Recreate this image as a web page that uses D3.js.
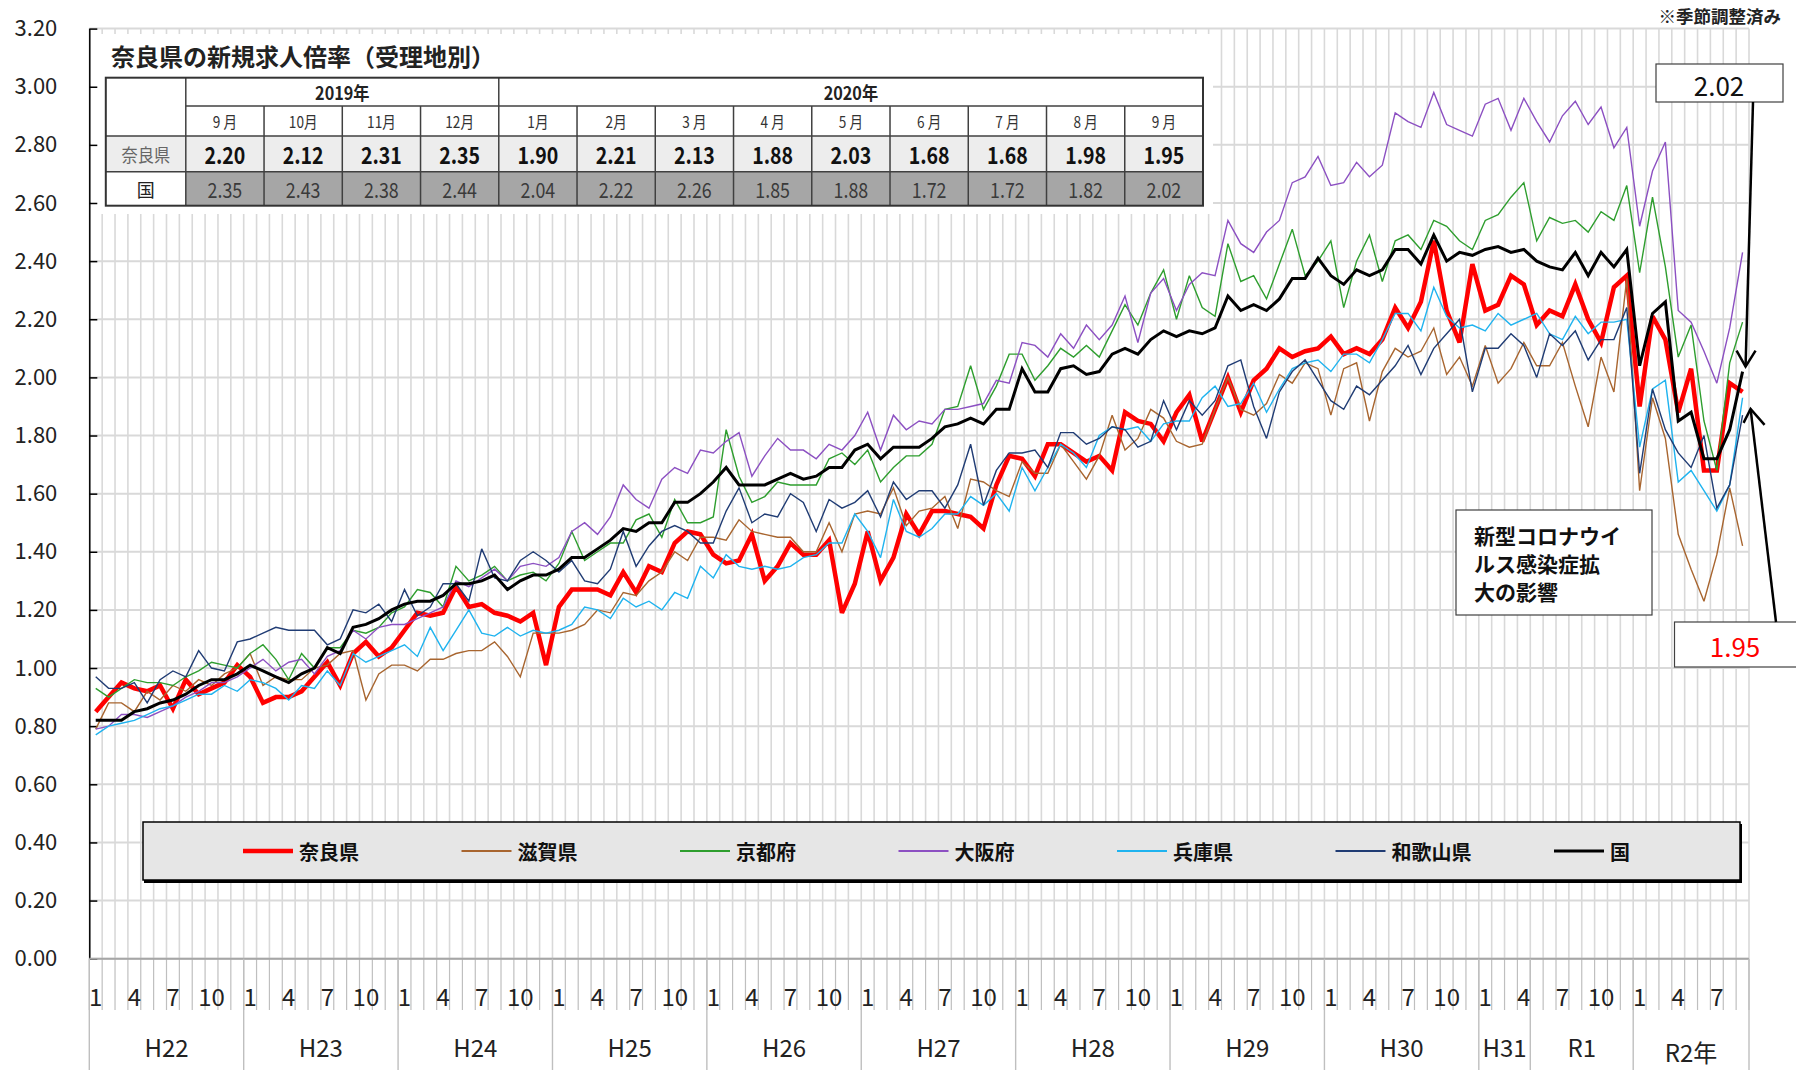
<!DOCTYPE html>
<html>
<head>
<meta charset="utf-8">
<script src="https://cdn.jsdelivr.net/npm/d3@7"></script>
<style>
  body { margin: 0; background: #fff; }
  svg text { font-family: "Noto Sans CJK JP", "Noto Sans", sans-serif; }
</style>
</head>
<body>
<div id="chart"></div>
<script>

// monthly values, H22 Jan (2010) .. R2 Sep (2020)
var naraValues = [
  0.85, 0.90, 0.95, 0.93, 0.92, 0.94, 0.86, 0.96, 0.91, 0.93, 0.95, 1.01,
  0.97, 0.88, 0.90, 0.90, 0.92, 0.97, 1.02, 0.94, 1.05, 1.09, 1.04, 1.07,
  1.13, 1.19, 1.18, 1.19, 1.28, 1.21, 1.22, 1.19, 1.18, 1.16, 1.19, 1.01,
  1.21, 1.27, 1.27, 1.27, 1.25, 1.33, 1.26, 1.35, 1.33, 1.43, 1.47, 1.46,
  1.39, 1.36, 1.37, 1.46, 1.30, 1.35, 1.43, 1.39, 1.39, 1.44, 1.19, 1.29,
  1.47, 1.30, 1.38, 1.53, 1.46, 1.54, 1.54, 1.53, 1.52, 1.48, 1.63, 1.73,
  1.72, 1.66, 1.77, 1.77, 1.74, 1.71, 1.73, 1.68, 1.88, 1.85, 1.84, 1.78,
  1.88, 1.94, 1.78, 1.89, 2.00, 1.88, 1.99, 2.03, 2.10, 2.07, 2.09, 2.10,
  2.14, 2.08, 2.10, 2.08, 2.13, 2.24, 2.17, 2.26, 2.47, 2.23, 2.12, 2.39,
  2.23, 2.25, 2.35, 2.32, 2.18, 2.23, 2.21, 2.32, 2.20, 2.12, 2.31, 2.35,
  1.90, 2.21, 2.13, 1.88, 2.03, 1.68, 1.68, 1.98, 1.95
];
var shigaValues = [
  0.79, 0.88, 0.88, 0.85, 0.92, 0.89, 0.94, 0.92, 0.96, 0.94, 0.98, 1.00,
  1.05, 0.94, 0.97, 0.96, 0.96, 1.00, 1.01, 1.05, 1.06, 0.89, 0.98, 1.01,
  1.01, 0.99, 1.03, 1.03, 1.05, 1.06, 1.06, 1.09, 1.04, 0.97, 1.12, 1.12,
  1.12, 1.13, 1.15, 1.20, 1.19, 1.26, 1.25, 1.30, 1.33, 1.40, 1.37, 1.45,
  1.45, 1.44, 1.51, 1.47, 1.46, 1.45, 1.45, 1.40, 1.40, 1.50, 1.40, 1.53,
  1.54, 1.53, 1.62, 1.49, 1.54, 1.55, 1.59, 1.48, 1.65, 1.64, 1.61, 1.59,
  1.71, 1.67, 1.67, 1.77, 1.71, 1.65, 1.73, 1.87, 1.75, 1.79, 1.89, 1.86,
  1.78, 1.76, 1.77, 1.89, 2.00, 1.89, 1.87, 1.91, 2.01, 1.98, 2.05, 2.03,
  1.87, 2.03, 2.05, 1.85, 2.02, 2.10, 2.07, 2.09, 2.17, 2.01, 2.07, 1.97,
  2.11, 1.98, 2.03, 2.12, 2.04, 2.04, 2.12, 1.97, 1.83, 2.07, 1.95, 2.34,
  1.61, 1.93, 1.79, 1.46, 1.34, 1.23, 1.39, 1.62, 1.42
];
var kyotoValues = [
  0.93, 0.90, 0.93, 0.96, 0.95, 0.95, 0.94, 0.97, 0.99, 1.02, 1.01, 1.00,
  1.05, 1.08, 1.03, 0.96, 1.05, 1.00, 1.07, 1.07, 1.13, 1.12, 1.14, 1.19,
  1.21, 1.27, 1.26, 1.21, 1.35, 1.30, 1.32, 1.35, 1.30, 1.32, 1.33, 1.30,
  1.36, 1.47, 1.37, 1.40, 1.43, 1.43, 1.51, 1.53, 1.45, 1.58, 1.50, 1.50,
  1.52, 1.82, 1.66, 1.57, 1.59, 1.64, 1.63, 1.63, 1.63, 1.72, 1.74, 1.70,
  1.75, 1.64, 1.69, 1.73, 1.73, 1.77, 1.89, 1.90, 2.04, 1.89, 1.97, 2.08,
  2.08, 1.99, 2.04, 2.10, 2.07, 2.11, 2.07, 2.16, 2.25, 2.18, 2.29, 2.37,
  2.20, 2.35, 2.24, 2.21, 2.46, 2.33, 2.35, 2.27, 2.39, 2.51, 2.35, 2.40,
  2.47, 2.24, 2.40, 2.49, 2.33, 2.47, 2.49, 2.44, 2.54, 2.52, 2.47, 2.44,
  2.54, 2.56, 2.62, 2.67, 2.47, 2.55, 2.53, 2.54, 2.50, 2.57, 2.54, 2.66,
  2.36, 2.62, 2.38, 2.07, 2.18, 1.85, 1.68, 2.05, 2.19
];
var osakaValues = [
  0.79, 0.80, 0.84, 0.84, 0.83, 0.85, 0.87, 0.90, 0.92, 0.95, 0.95, 0.97,
  1.00, 1.03, 0.99, 1.02, 1.03, 0.98, 1.04, 1.06, 1.13, 1.10, 1.14, 1.15,
  1.15, 1.17, 1.19, 1.21, 1.30, 1.28, 1.31, 1.34, 1.30, 1.35, 1.36, 1.35,
  1.38, 1.47, 1.50, 1.46, 1.52, 1.63, 1.58, 1.55, 1.65, 1.69, 1.67, 1.75,
  1.74, 1.78, 1.81, 1.66, 1.73, 1.79, 1.75, 1.75, 1.72, 1.77, 1.75, 1.80,
  1.88, 1.75, 1.87, 1.82, 1.85, 1.84, 1.89, 1.89, 1.90, 1.91, 1.99, 1.98,
  2.12, 2.11, 2.07, 2.15, 2.10, 2.18, 2.13, 2.18, 2.28, 2.12, 2.29, 2.34,
  2.23, 2.32, 2.36, 2.35, 2.54, 2.46, 2.43, 2.50, 2.54, 2.67, 2.69, 2.76,
  2.66, 2.67, 2.74, 2.69, 2.73, 2.91, 2.88, 2.86, 2.98, 2.87, 2.85, 2.83,
  2.94, 2.96, 2.85, 2.96, 2.88, 2.81, 2.90, 2.95, 2.87, 2.93, 2.79, 2.86,
  2.52, 2.71, 2.81, 2.23, 2.19, 2.09, 1.98, 2.17, 2.43
];
var hyogoValues = [
  0.77, 0.80, 0.81, 0.82, 0.84, 0.86, 0.87, 0.89, 0.91, 0.91, 0.94, 0.92,
  0.96, 0.95, 0.93, 0.89, 0.94, 0.93, 0.99, 0.94, 1.05, 1.02, 1.04, 1.06,
  1.08, 1.04, 1.14, 1.06, 1.13, 1.20, 1.12, 1.11, 1.14, 1.11, 1.13, 1.12,
  1.13, 1.15, 1.21, 1.20, 1.17, 1.24, 1.21, 1.23, 1.20, 1.26, 1.24, 1.35,
  1.31, 1.39, 1.35, 1.34, 1.35, 1.34, 1.35, 1.38, 1.39, 1.43, 1.43, 1.53,
  1.47, 1.38, 1.58, 1.47, 1.45, 1.48, 1.53, 1.53, 1.59, 1.56, 1.60, 1.54,
  1.69, 1.61, 1.69, 1.77, 1.74, 1.69, 1.80, 1.83, 1.82, 1.83, 1.78, 1.84,
  1.85, 1.85, 1.93, 1.97, 1.90, 1.91, 1.98, 1.88, 1.96, 2.03, 2.05, 2.06,
  2.02, 2.08, 2.08, 2.05, 2.13, 2.22, 2.22, 2.16, 2.31, 2.21, 2.17, 2.18,
  2.16, 2.22, 2.18, 2.20, 2.22, 2.15, 2.13, 2.21, 2.15, 2.19, 2.19, 2.20,
  1.76, 1.96, 1.99, 1.64, 1.68, 1.61, 1.54, 1.63, 1.93
];
var wakayamaValues = [
  0.97, 0.93, 0.93, 0.95, 0.88, 0.96, 0.99, 0.97, 1.06, 1.00, 0.99, 1.09,
  1.10, 1.12, 1.14, 1.13, 1.13, 1.13, 1.08, 1.10, 1.20, 1.19, 1.22, 1.16,
  1.27, 1.18, 1.21, 1.29, 1.29, 1.23, 1.41, 1.31, 1.30, 1.37, 1.40, 1.37,
  1.33, 1.37, 1.30, 1.29, 1.34, 1.47, 1.35, 1.42, 1.47, 1.49, 1.47, 1.43,
  1.43, 1.54, 1.62, 1.50, 1.53, 1.52, 1.60, 1.57, 1.47, 1.58, 1.55, 1.57,
  1.61, 1.52, 1.64, 1.58, 1.61, 1.61, 1.55, 1.63, 1.77, 1.56, 1.68, 1.74,
  1.74, 1.75, 1.69, 1.81, 1.81, 1.77, 1.79, 1.83, 1.82, 1.76, 1.78, 1.92,
  1.82, 1.92, 1.87, 1.92, 2.04, 2.06, 1.90, 1.79, 1.95, 2.02, 2.06, 1.99,
  1.92, 1.89, 1.97, 1.94, 1.99, 2.04, 2.11, 2.01, 2.10, 2.15, 2.20, 1.95,
  2.10, 2.10, 2.15, 2.11, 2.00, 2.15, 2.11, 2.16, 2.06, 2.13, 2.13, 2.24,
  1.67, 1.96, 1.82, 1.74, 1.69, 1.80, 1.55, 1.63, 1.87
];
var nationalValues = [
  0.82, 0.82, 0.82, 0.85, 0.86, 0.88, 0.89, 0.91, 0.94, 0.96, 0.96, 0.98,
  1.01, 0.99, 0.97, 0.95, 0.98, 1.00, 1.07, 1.05, 1.14, 1.15, 1.17, 1.20,
  1.22, 1.23, 1.23, 1.25, 1.29, 1.29, 1.30, 1.32, 1.27, 1.30, 1.32, 1.32,
  1.34, 1.38, 1.38, 1.41, 1.44, 1.48, 1.47, 1.50, 1.50, 1.57, 1.57, 1.60,
  1.64, 1.69, 1.63, 1.63, 1.63, 1.65, 1.67, 1.65, 1.66, 1.69, 1.69, 1.75,
  1.77, 1.72, 1.76, 1.76, 1.76, 1.79, 1.83, 1.84, 1.86, 1.84, 1.89, 1.89,
  2.03, 1.95, 1.95, 2.03, 2.04, 2.01, 2.02, 2.08, 2.10, 2.08, 2.13, 2.16,
  2.14, 2.16, 2.15, 2.17, 2.28, 2.23, 2.25, 2.23, 2.27, 2.34, 2.34, 2.41,
  2.35, 2.32, 2.37, 2.35, 2.37, 2.44, 2.44, 2.39, 2.49, 2.40, 2.43, 2.42,
  2.44, 2.45, 2.43, 2.44, 2.40, 2.38, 2.37, 2.43, 2.35, 2.43, 2.38, 2.44,
  2.04, 2.22, 2.26, 1.85, 1.88, 1.72, 1.72, 1.82, 2.02
];

// x axis eras
var eraLabels = ["H22", "H23", "H24", "H25", "H26", "H27", "H28", "H29", "H30", "H31", "R1", "R2年"];
var eraLengths = [12, 12, 12, 12, 12, 12, 12, 12, 12, 4, 8, 9];
var monthTickLabels = [1, 4, 7, 10];

var yTicks = [0, 0.2, 0.4, 0.6, 0.8, 1.0, 1.2, 1.4, 1.6, 1.8, 2.0, 2.2, 2.4, 2.6, 2.8, 3.0, 3.2];

// table (last 13 months)
var tableYears = ["2019年", "2020年"];
var tableYearSpans = [4, 9];
var tableMonths = ["9 月", "10月", "11月", "12月", "1月", "2月", "3 月", "4 月", "5 月", "6 月", "7 月", "8 月", "9 月"];
var tableNara = naraValues.slice(-13);
var tableNational = nationalValues.slice(-13);

var seriesList = [
  {name: "奈良県", values: naraValues, color: "#ff0000", width: 4.5},
  {name: "滋賀県", values: shigaValues, color: "#a8652f", width: 1.4},
  {name: "京都府", values: kyotoValues, color: "#2e9e2e", width: 1.4},
  {name: "大阪府", values: osakaValues, color: "#8c50c2", width: 1.4},
  {name: "兵庫県", values: hyogoValues, color: "#1fb3ef", width: 1.4},
  {name: "和歌山県", values: wakayamaValues, color: "#203c74", width: 1.4},
  {name: "国", values: nationalValues, color: "#000000", width: 3}
];

var W = 1796, H = 1070;
var plotLeft = 89.3, plotRight = 1749, plotTop = 28.6, plotBottom = 958.7;
var n = naraValues.length;
var fmt = d3.format(".2f");

var svg = d3.select("#chart").append("svg")
  .attr("width", W)
  .attr("height", H);

var x = d3.scaleBand().domain(d3.range(n)).range([plotLeft, plotRight]).padding(0);
var y = d3.scaleLinear().domain([0, 3.2]).range([plotBottom, plotTop]);
var bw = x.bandwidth();
function edge(i) { return i < n ? x(i) : plotRight; }

// grid
var grid = svg.append("g");
grid.selectAll(".vg")
  .data(d3.range(n + 1))
  .enter().append("line")
    .attr("x1", edge).attr("x2", edge)
    .attr("y1", plotTop).attr("y2", plotBottom)
    .attr("stroke", "#d9d9d9").attr("stroke-width", 1.6);
grid.selectAll(".hg")
  .data(yTicks)
  .enter().append("line")
    .attr("x1", plotLeft).attr("x2", plotRight)
    .attr("y1", function(d) { return y(d); })
    .attr("y2", function(d) { return y(d); })
    .attr("stroke", "#d9d9d9").attr("stroke-width", 2);

// white area behind title + table
svg.append("rect")
  .attr("x", 91).attr("y", 34).attr("width", 1122).attr("height", 180)
  .attr("fill", "#fff");

// y axis
var yAxis = d3.axisLeft(y)
  .tickValues(yTicks)
  .tickFormat(fmt)
  .tickSizeInner(-8)
  .tickSizeOuter(0)
  .tickPadding(32);
var ya = svg.append("g")
  .attr("transform", "translate(" + plotLeft + ",0)")
  .call(yAxis);
ya.select(".domain").attr("stroke", "#000").attr("stroke-width", 1.5);
ya.selectAll(".tick line").attr("stroke", "#000").attr("stroke-width", 1.5);
ya.selectAll(".tick text")
  .attr("font-family", "'Liberation Sans', Arial, sans-serif")
  .attr("font-size", 22)
  .attr("fill", "#222");

// x axis (category area)
var xa = svg.append("g");
xa.selectAll(".mt")
  .data(d3.range(n + 1))
  .enter().append("line")
    .attr("x1", edge).attr("x2", edge)
    .attr("y1", plotBottom).attr("y2", 1010)
    .attr("stroke", "#bfbfbf").attr("stroke-width", 1.2);
xa.append("line")
  .attr("x1", plotLeft).attr("x2", plotRight)
  .attr("y1", plotBottom).attr("y2", plotBottom)
  .attr("stroke", "#a6a6a6").attr("stroke-width", 2);
xa.selectAll(".ml")
  .data(d3.range(n).filter(function(i) { return monthTickLabels.indexOf(i % 12 + 1) >= 0; }))
  .enter().append("text")
    .attr("x", function(i) { return x(i) + bw / 2; })
    .attr("y", 995)
    .attr("text-anchor", "middle")
    .attr("dominant-baseline", "central")
    .attr("font-family", "'Liberation Sans Narrow', 'Open Sans', sans-serif")
    .attr("font-size", 24)
    .attr("fill", "#222")
    .text(function(i) { return i % 12 + 1; });

var eraStarts = [];
var acc = 0;
eraLengths.forEach(function(len) { eraStarts.push(acc); acc += len; });
eraStarts.push(acc);
xa.selectAll(".yb")
  .data(eraStarts)
  .enter().append("line")
    .attr("x1", edge).attr("x2", edge)
    .attr("y1", plotBottom).attr("y2", H)
    .attr("stroke", "#bfbfbf").attr("stroke-width", 1.4);
xa.selectAll(".yl")
  .data(eraLabels)
  .enter().append("text")
    .attr("x", function(d, k) { return (edge(eraStarts[k]) + edge(eraStarts[k + 1])) / 2; })
    .attr("y", function(d) { return d.indexOf("年") >= 0 ? 1051 : 1046; })
    .attr("text-anchor", "middle")
    .attr("dominant-baseline", "central")
    .attr("font-family", "'Liberation Sans Narrow', 'Open Sans', 'Noto Sans CJK JP', sans-serif")
    .attr("font-size", 24)
    .attr("fill", "#222")
    .text(function(d) { return d; });

// lines
var line = d3.line()
  .x(function(d, i) { return x(i) + bw / 2; })
  .y(function(d) { return y(d); });

svg.append("g").selectAll("path")
  .data(seriesList)
  .enter().append("path")
    .attr("d", function(s) { return line(s.values); })
    .attr("fill", "none")
    .attr("stroke", function(s) { return s.color; })
    .attr("stroke-width", function(s) { return s.width; })
    .attr("stroke-linejoin", "miter")
    .attr("stroke-miterlimit", 3);

// title
svg.append("text")
  .attr("x", 111).attr("y", 55)
  .attr("dominant-baseline", "central")
  .attr("font-size", 24)
  .attr("font-weight", "bold")
  .attr("fill", "#222")
  .text("奈良県の新規求人倍率（受理地別）");

// table
var tbl = svg.append("g");
var tLeft = 105.8, tFirst = 185.8, tRight = 1203;
var rowY = [77.7, 106, 136, 171.7, 205.7];
var col = d3.scaleBand().domain(d3.range(13)).range([tFirst, tRight]);

function cellText(xc, yc, str, size, weight, color, sx) {
  tbl.append("text")
    .attr("transform", "translate(" + xc + "," + yc + ") scale(" + sx + ",1)")
    .attr("text-anchor", "middle")
    .attr("dominant-baseline", "central")
    .attr("font-size", size)
    .attr("font-weight", weight)
    .attr("fill", color)
    .text(str);
}

tbl.append("rect").attr("x", tLeft).attr("y", rowY[0]).attr("width", tRight - tLeft).attr("height", rowY[4] - rowY[0]).attr("fill", "#fff");
tbl.append("rect").attr("x", tLeft).attr("y", rowY[2]).attr("width", tRight - tLeft).attr("height", rowY[3] - rowY[2]).attr("fill", "#ededed");
tbl.append("rect").attr("x", tFirst).attr("y", rowY[3]).attr("width", tRight - tFirst).attr("height", rowY[4] - rowY[3]).attr("fill", "#a6a6a6");

// table rules
tbl.append("line").attr("x1", tFirst).attr("x2", tRight).attr("y1", rowY[1]).attr("y2", rowY[1]).attr("stroke", "#404040").attr("stroke-width", 1.5);
[rowY[2], rowY[3]].forEach(function(yy) {
  tbl.append("line").attr("x1", tLeft).attr("x2", tRight).attr("y1", yy).attr("y2", yy).attr("stroke", "#404040").attr("stroke-width", 1.5);
});
tbl.append("line").attr("x1", tFirst).attr("x2", tFirst).attr("y1", rowY[0]).attr("y2", rowY[4]).attr("stroke", "#404040").attr("stroke-width", 1.5);
d3.range(1, 13).forEach(function(c) {
  var top = (c === tableYearSpans[0]) ? rowY[0] : rowY[1];
  tbl.append("line").attr("x1", col(c)).attr("x2", col(c)).attr("y1", top).attr("y2", rowY[4]).attr("stroke", "#404040").attr("stroke-width", 1.5);
});
tbl.append("rect").attr("x", tLeft).attr("y", rowY[0]).attr("width", tRight - tLeft).attr("height", rowY[4] - rowY[0])
  .attr("fill", "none").attr("stroke", "#333").attr("stroke-width", 2);

var c0 = 0;
tableYears.forEach(function(yr, k) {
  var x0 = col(c0), x1 = col(c0 + tableYearSpans[k] - 1) + col.bandwidth();
  cellText((x0 + x1) / 2, (rowY[0] + rowY[1]) / 2, yr, 18, "bold", "#222", 0.9);
  c0 += tableYearSpans[k];
});
tableMonths.forEach(function(m, c) {
  cellText(col(c) + col.bandwidth() / 2, (rowY[1] + rowY[2]) / 2, m, 16, "normal", "#333", 0.85);
});
cellText((tLeft + tFirst) / 2, (rowY[2] + rowY[3]) / 2, "奈良県", 18, "normal", "#666", 0.9);
cellText((tLeft + tFirst) / 2, (rowY[3] + rowY[4]) / 2, "国", 18, "normal", "#222", 1);
tableNara.forEach(function(v, c) {
  cellText(col(c) + col.bandwidth() / 2, (rowY[2] + rowY[3]) / 2, fmt(v), 23, "bold", "#111", 0.85);
});
tableNational.forEach(function(v, c) {
  cellText(col(c) + col.bandwidth() / 2, (rowY[3] + rowY[4]) / 2, fmt(v), 21, "normal", "#3a3a3a", 0.85);
});

// legend
var lg = svg.append("g");
lg.append("rect").attr("x", 144).attr("y", 824).attr("width", 1598).attr("height", 59).attr("fill", "#000");
lg.append("rect").attr("x", 143).attr("y", 822).attr("width", 1597).attr("height", 58)
  .attr("fill", "#e6e6e6").attr("stroke", "#000").attr("stroke-width", 1.5);
var item = lg.selectAll(".it")
  .data(seriesList)
  .enter().append("g")
    .attr("transform", function(s, k) { return "translate(" + (243 + k * 218.5) + ",851)"; });
item.append("line")
  .attr("x1", 0).attr("x2", 50)
  .attr("stroke", function(s) { return s.color; })
  .attr("stroke-width", function(s) { return s.width > 2 ? s.width : 2; });
item.append("text")
  .attr("x", 56)
  .attr("dominant-baseline", "central")
  .attr("font-size", 20)
  .attr("font-weight", "bold")
  .attr("fill", "#111")
  .text(function(s) { return s.name; });

// note
svg.append("text")
  .attr("x", 1781).attr("y", 15)
  .attr("text-anchor", "end")
  .attr("dominant-baseline", "central")
  .attr("font-size", 17.5)
  .attr("font-weight", "bold")
  .attr("fill", "#222")
  .text("※季節調整済み");

// annotation box
svg.append("rect")
  .attr("x", 1456).attr("y", 510).attr("width", 196).attr("height", 105)
  .attr("fill", "#fff").attr("stroke", "#404040").attr("stroke-width", 1.2);
["新型コロナウイ", "ルス感染症拡", "大の影響"].forEach(function(t, k) {
  svg.append("text")
    .attr("x", 1474).attr("y", 535 + k * 28)
    .attr("dominant-baseline", "central")
    .attr("font-size", 21)
    .attr("font-weight", "bold")
    .attr("fill", "#111")
    .text(t);
});

// callouts for the latest values
var last = n - 1;
var lastX = x(last) + bw / 2;
svg.append("rect")
  .attr("x", 1656).attr("y", 64).attr("width", 127).attr("height", 38)
  .attr("fill", "#fff").attr("stroke", "#404040").attr("stroke-width", 1.2);
svg.append("text")
  .attr("x", 1719).attr("y", 84)
  .attr("text-anchor", "middle").attr("dominant-baseline", "central")
  .attr("font-family", "'Liberation Sans', Arial, sans-serif")
  .attr("font-size", 26).attr("fill", "#111")
  .text(fmt(nationalValues[last]));
svg.append("rect")
  .attr("x", 1674.5).attr("y", 622).attr("width", 130).attr("height", 45)
  .attr("fill", "#fff").attr("stroke", "#404040").attr("stroke-width", 1.2);
svg.append("text")
  .attr("x", 1735).attr("y", 645)
  .attr("text-anchor", "middle").attr("dominant-baseline", "central")
  .attr("font-family", "'Liberation Sans', Arial, sans-serif")
  .attr("font-size", 26).attr("fill", "#ff0000")
  .text(fmt(naraValues[last]));

var ay1 = y(nationalValues[last]) - 5;
var ay2 = y(naraValues[last]) + 17;
var arrows = svg.append("g").attr("fill", "none").attr("stroke", "#000").attr("stroke-width", 2.5);
arrows.append("line").attr("x1", 1753).attr("y1", 102).attr("x2", lastX + 3).attr("y2", ay1);
arrows.append("polyline").attr("points", [[lastX - 6, ay1 - 16], [lastX + 3, ay1], [lastX + 13, ay1 - 16]].join(" "));
arrows.append("line").attr("x1", 1776).attr("y1", 622).attr("x2", lastX + 8).attr("y2", ay2);
arrows.append("polyline").attr("points", [[lastX + 1, ay2 + 14], [lastX + 8, ay2], [lastX + 22, ay2 + 16]].join(" "));

</script>
</body>
</html>
